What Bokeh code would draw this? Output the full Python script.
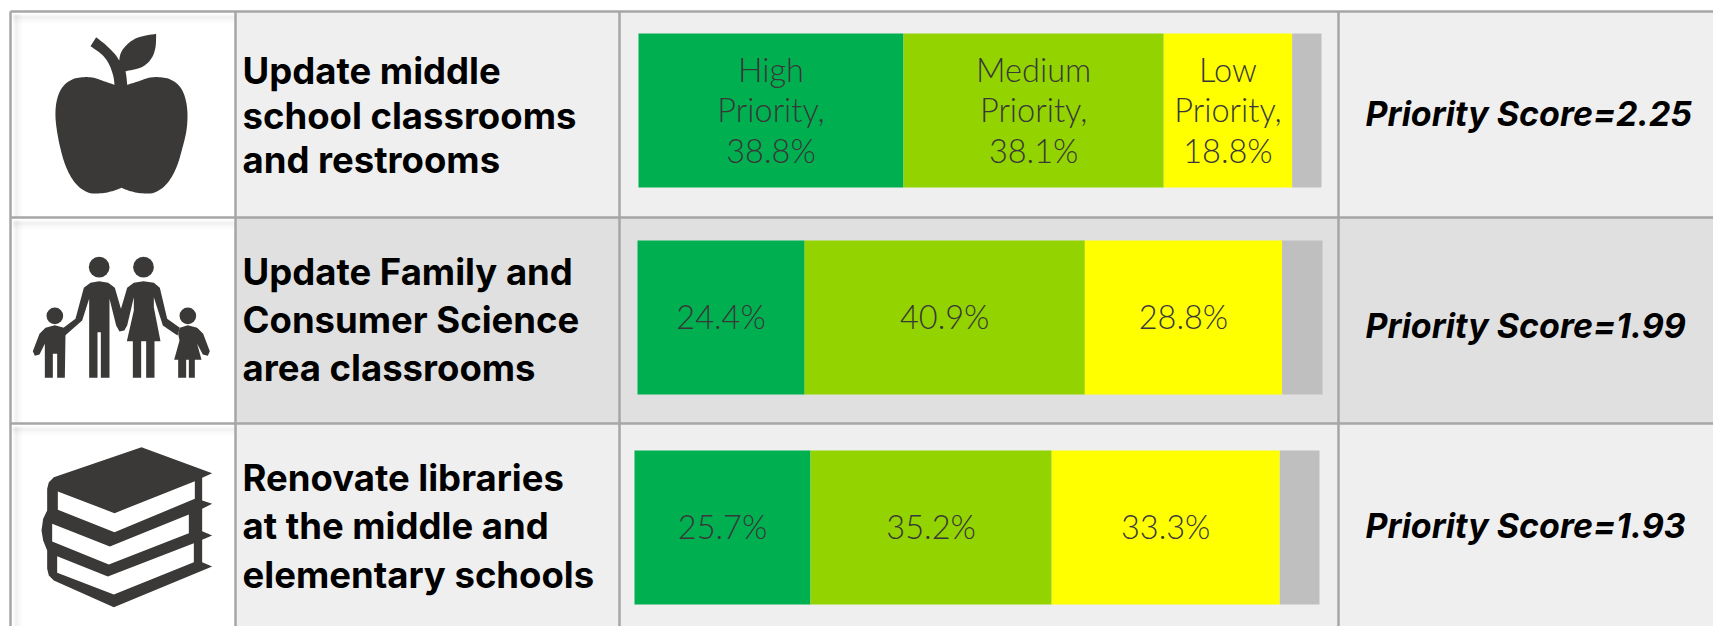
from bokeh.plotting import figure
from bokeh.models import Range1d
from bokeh.core.properties import value
from bokeh.embed import file_html
from bokeh.resources import INLINE

# ---- chart values ----
high = [38.8, 24.4, 25.7]
medium = [38.1, 40.9, 35.2]
low = [18.8, 28.8, 33.3]
unrated = [4.3, 5.9, 5.8]
scores = ["2.25", "1.99", "1.93"]
labels = [
    ["Update middle", "school classrooms", "and restrooms"],
    ["Update Family and", "Consumer Science", "area classrooms"],
    ["Renovate libraries", "at the middle and", "elementary schools"],
]
series_names = ["High", "Medium", "Low"]

# ---- layout ----
W, H = 1713, 626
X0, Y0 = 0, 0
row_lines = [11, 217, 423, 626]
col_lines = [10, 235, 619, 1338, 1713]
row_bg = ["#EFEFEF", "#E0E0E0", "#EFEFEF"]
bar_left = [638, 637, 634]
bar_tops = [33, 240, 450]
bar_bottoms = [187, 394, 604]
px_per_pct = [6.83, 6.85, 6.85]
colors = ["#00B050", "#92D300", "#FFFF00", "#BFBFBF"]
label_base = [[70, 115, 159], [271, 319, 367], [477, 525, 574]]
score_base = [113, 325, 525]
pct_base = [150, 316, 526]
INK = "#3A3938"
TXT = "#383838"
LINE = "#A6A6A6"
BOLD = value("Inter")
LIGHT = value("Lato Light")

p = figure(width=W, height=H, output_backend="svg", toolbar_location=None,
           x_range=Range1d(X0, X0 + W), y_range=Range1d(Y0 + H, Y0),
           min_border=0, outline_line_color=None, background_fill_color="white",
           border_fill_color="white")
p.axis.visible = False
p.grid.visible = False

def smooth(pts, n=6):
    out = []
    m = len(pts)
    for i in range(m - 1):
        a = pts[max(i - 1, 0)]
        b = pts[i]
        c = pts[i + 1]
        d = pts[min(i + 2, m - 1)]
        for k in range(n):
            t = k / n
            f = lambda u: 0.5 * (2 * b[u] + (c[u] - a[u]) * t + (2 * a[u] - 5 * b[u] + 4 * c[u] - d[u]) * t * t
                                 + (3 * b[u] - a[u] - 3 * c[u] + d[u]) * t ** 3)
            out.append((f(0), f(1)))
    out.append(pts[-1])
    return out

def icon(pts, ox, oy, color=INK):
    p.patch([ox + a / 3 for a, _ in pts], [oy + b / 3 for _, b in pts],
            fill_color=color, line_color=None)

# cell backgrounds
for r in range(3):
    p.quad(left=[col_lines[0]], right=[col_lines[1]], top=[row_lines[r]], bottom=[row_lines[r + 1]],
           fill_color="white", line_color=None)
    p.quad(left=[col_lines[1]], right=[col_lines[-1]], top=[row_lines[r]], bottom=[row_lines[r + 1]],
           fill_color=row_bg[r], line_color=None)
    # soft inner shadow of the white icon cell
    for i, a in enumerate([0.05, 0.09, 0.11, 0.10, 0.08, 0.06, 0.04, 0.03, 0.02, 0.01]):
        p.quad(left=[col_lines[0] + 2], right=[col_lines[1] - 1], top=[row_lines[r] + 3 + i], bottom=[row_lines[r] + 4 + i],
               fill_color="#808080", fill_alpha=a, line_color=None)
        p.quad(left=[col_lines[0] + 3 + i], right=[col_lines[0] + 4 + i], top=[row_lines[r] + 3], bottom=[row_lines[r + 1]],
               fill_color="#808080", fill_alpha=a, line_color=None)

# stacked bars
for r in range(3):
    vals = [high[r], medium[r], low[r], unrated[r]]
    x = bar_left[r]
    for i, v in enumerate(vals):
        x2 = x + v * px_per_pct[r]
        p.quad(left=[x], right=[x2], top=[bar_tops[r]], bottom=[bar_bottoms[r]],
               fill_color=colors[i], line_color=None)
        if i < 3:
            cx = (x + x2) / 2
            pct = f"{v}%"
            if r == 0:
                lines = [series_names[i], "Priority,", pct]
                ys = [pct_base[0] - 81, pct_base[0] - 41, pct_base[0]]
            else:
                lines = [pct]
                ys = [pct_base[r]]
            p.text(x=[cx] * len(lines), y=ys, text=lines, text_font=LIGHT, text_font_size="32.5px",
                   text_color=TXT, text_align="center", text_baseline="alphabetic")
        x = x2

# grid lines
for y in row_lines[:3]:
    p.segment(x0=[col_lines[0]], x1=[col_lines[-1]], y0=[y], y1=[y], line_color=LINE, line_width=2.5)
for x in col_lines[:4]:
    p.segment(x0=[x], x1=[x], y0=[row_lines[0]], y1=[row_lines[-1]], line_color=LINE, line_width=2.5)

# row labels and scores
for r in range(3):
    p.text(x=[242] * 3, y=label_base[r], text=labels[r], text_font=BOLD, text_font_style="bold",
           text_font_size="36.5px", text_color="black", text_baseline="alphabetic")
    p.text(x=[1365], y=[score_base[r]], text=[f"Priority Score={scores[r]}"], text_font=BOLD,
           text_font_style="bold italic", text_font_size="34px", text_color="black", text_baseline="alphabetic")

# apple icon
ox, oy = 40, 25
apple = (smooth([(222, 178), (190, 167), (160, 157), (130, 155), (100, 160), (75, 175), (57, 200), (47, 235), (45, 275),
                 (50, 320), (60, 370), (75, 420), (95, 460), (120, 488), (150, 503), (185, 503), (215, 497), (243, 487)])
         + smooth([(243, 487), (270, 497), (300, 503), (335, 503), (365, 488), (390, 460), (410, 420), (425, 370), (437, 320),
                   (441, 275), (438, 235), (428, 200), (410, 175), (385, 160), (355, 155), (325, 157), (295, 167), (260, 178)])
         + smooth([(260, 178), (258, 155), (255, 137)])
         + smooth([(255, 137), (290, 130), (315, 118), (335, 95), (345, 65), (347, 25)])
         + smooth([(347, 25), (295, 35), (262, 55), (242, 80), (236, 105)])
         + smooth([(236, 105), (225, 88), (200, 62), (167, 35)])
         + [(150, 62)]
         + smooth([(150, 62), (185, 88), (205, 115), (218, 150), (222, 178)]))
icon(apple, ox, oy)

# family icon
ox, oy = 25, 250
p.circle(x=[ox + c / 3 for c in (221, 354, 88, 487)], y=[oy + 50 / 3, oy + 50 / 3, oy + 196 / 3, oy + 196 / 3],
         radius=[31 / 3, 31 / 3, 25 / 3, 25 / 3], fill_color=INK, line_color=None)
man = [(175, 112), (195, 97), (221, 92), (248, 97), (268, 112), (285, 170), (302, 225), (296, 240), (282, 243), (272, 225),
       (252, 145), (252, 382), (226, 382), (226, 245), (216, 245), (216, 382), (191, 382), (191, 145), (170, 210), (118, 256),
       (110, 235), (150, 205)]
woman = [(305, 112), (325, 97), (354, 92), (385, 97), (403, 112), (425, 205), (463, 232), (456, 255), (412, 225), (385, 140),
         (385, 170), (405, 272), (387, 272), (387, 382), (362, 382), (362, 272), (347, 272), (347, 382), (322, 382), (322, 272),
         (304, 272), (325, 180), (325, 140), (305, 225), (296, 240), (285, 180)]
boy = [(60, 232), (88, 224), (115, 232), (120, 250), (118, 382), (95, 382), (95, 310), (82, 310), (82, 382), (58, 382),
       (58, 280), (42, 312), (28, 316), (22, 302), (42, 250)]
girl = [(463, 232), (487, 224), (515, 232), (533, 250), (553, 302), (547, 316), (532, 312), (515, 280), (528, 328), (508, 328),
        (508, 382), (490, 382), (490, 328), (482, 328), (482, 382), (458, 382), (458, 328), (446, 328), (462, 270), (458, 250)]
for shape in (man, woman, boy, girl):
    icon(shape, ox, oy)

# books icon
ox, oy = 30, 440
books = [(333, 20), (545, 98), (515, 112), (515, 180), (545, 190), (515, 205), (515, 272), (545, 285), (515, 298), (515, 365),
         (545, 378), (250, 500), (70, 420), (55, 405), (50, 385), (50, 330), (38, 300), (33, 270), (38, 235), (50, 210),
         (50, 145), (55, 125), (70, 110)]
icon(books, ox, oy)
pages = [
    [(82, 153), (252, 218), (493, 122), (493, 175), (252, 275), (82, 208)],
    [(65, 250), (238, 318), (475, 222), (475, 278), (235, 372), (65, 303)],
    [(80, 347), (232, 408), (490, 308), (490, 365), (250, 462), (80, 397)],
]
for pg in pages:
    icon(pg, ox, oy, "white")

open("out.html", "w").write(file_html(p, INLINE))
